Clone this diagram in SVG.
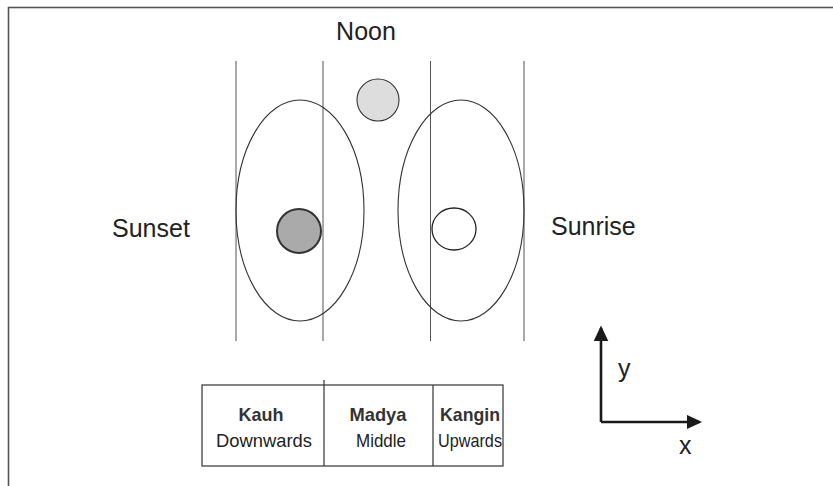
<svg xmlns="http://www.w3.org/2000/svg" width="833" height="486" viewBox="0 0 833 486">
<style>
.frame{fill:none;stroke:#555;stroke-width:1.6}
.vline{stroke:#555;stroke-width:1}
.ell{fill:none;stroke:#333;stroke-width:1.1}
.lbl{font-family:"Liberation Sans",Arial,sans-serif;font-size:25px;fill:#222}
.tb{font-family:"Liberation Sans",Arial,sans-serif;font-size:19px;fill:#222;text-anchor:middle}
.bold{font-weight:bold;fill:#333}
.cell{fill:none;stroke:#333;stroke-width:1.2}
.axis{stroke:#1a1a1a;stroke-width:2.6;fill:none}
</style>
<defs>
<marker id="ah" markerWidth="7" markerHeight="6" refX="5" refY="2.8" orient="auto" markerUnits="strokeWidth">
<path d="M0,0 L6,2.8 L0,5.6 Z" fill="#1a1a1a"/>
</marker>
</defs>
<rect width="833" height="486" fill="#fff"/>
<rect class="frame" x="8.5" y="7.5" width="840" height="500"/>
<g id="lines">
<line class="vline" x1="236" y1="61" x2="236" y2="341"/>
<line class="vline" x1="323" y1="61" x2="323" y2="341"/>
<line class="vline" x1="430.5" y1="61" x2="430.5" y2="341" stroke="#999"/>
<line class="vline" x1="524" y1="61" x2="524" y2="341"/>
</g>
<g id="sunset-ellipse"><ellipse class="ell" cx="300" cy="210.5" rx="64" ry="110.5"/></g>
<g id="sunrise-ellipse"><ellipse class="ell" cx="461" cy="210.5" rx="63" ry="110.5"/></g>
<g id="sun-noon"><circle cx="378" cy="100" r="21" fill="#ddd" stroke="#333" stroke-width="1.1"/></g>
<g id="sun-sunset"><circle cx="299" cy="231" r="22" fill="#aaa" stroke="#333" stroke-width="2"/></g>
<g id="sun-sunrise"><ellipse cx="454" cy="229" rx="22" ry="21" fill="#fff" stroke="#222" stroke-width="1.3"/></g>
<text class="lbl" x="366" y="40" text-anchor="middle">Noon</text>
<text class="lbl" x="112" y="237">Sunset</text>
<text class="lbl" x="551" y="235">Sunrise</text>
<g id="table">
<rect class="cell" x="202" y="385" width="301" height="81"/>
<line class="cell" x1="324" y1="380" x2="324" y2="466"/>
<line class="cell" x1="433" y1="385" x2="433" y2="466"/>
<text class="tb bold" x="261" y="421" textLength="45" lengthAdjust="spacingAndGlyphs">Kauh</text>
<text class="tb" x="264" y="447" textLength="96" lengthAdjust="spacingAndGlyphs">Downwards</text>
<text class="tb bold" x="378" y="421" textLength="57" lengthAdjust="spacingAndGlyphs">Madya</text>
<text class="tb" x="381" y="447" textLength="50" lengthAdjust="spacingAndGlyphs">Middle</text>
<text class="tb bold" x="470" y="421" textLength="60" lengthAdjust="spacingAndGlyphs">Kangin</text>
<text class="tb" x="470" y="447" textLength="64" lengthAdjust="spacingAndGlyphs">Upwards</text>
</g>
<g id="axes">
<path class="axis" d="M601,422 L601,328" marker-end="url(#ah)"/>
<path class="axis" d="M601,422 L699.5,422" marker-end="url(#ah)"/>
<text class="lbl" x="618" y="377">y</text>
<text class="lbl" x="679" y="454">x</text>
</g>
</svg>
